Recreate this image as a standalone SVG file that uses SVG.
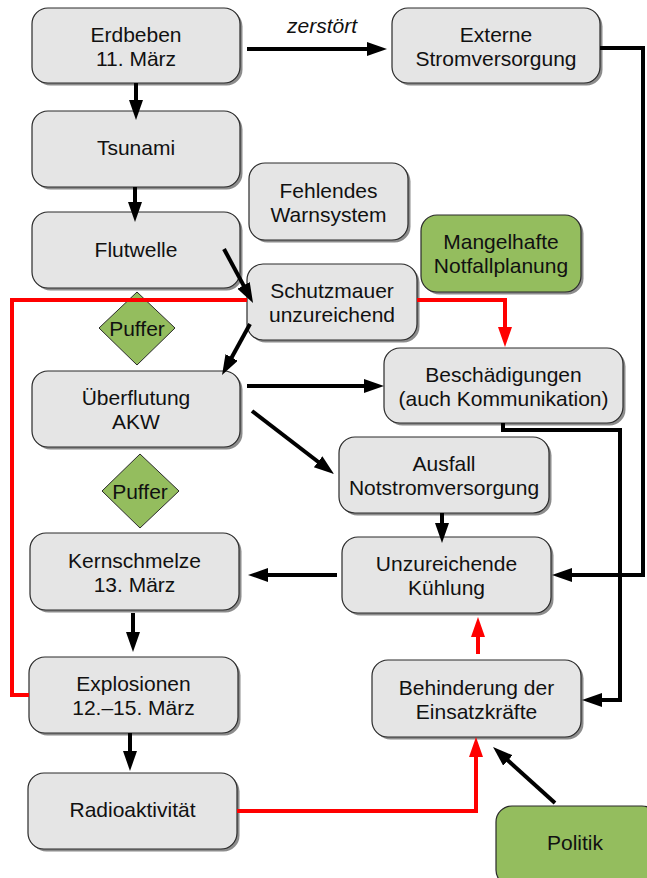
<svg xmlns="http://www.w3.org/2000/svg" width="647" height="878" viewBox="0 0 647 878">
<style>
.box{fill:#e5e5e5;stroke:#2a2a2a;stroke-width:1.2}
.green{fill:#94bd5e;stroke:#2a2a2a;stroke-width:1.2}
.sh{fill:#8c8c8c}
text{font-family:"Liberation Sans",Arial,sans-serif;font-size:21px;fill:#111;text-anchor:middle}
.it{font-style:italic}
.c{fill:none;stroke:#000;stroke-width:4}
.r{fill:none;stroke:#ff0000;stroke-width:4}
</style>
<defs>
<marker id="ab" markerUnits="userSpaceOnUse" markerWidth="22" markerHeight="16" refX="2" refY="7" orient="auto"><path d="M0,0 L20,7 L0,14 z" fill="#000"/></marker>
<marker id="ar" markerUnits="userSpaceOnUse" markerWidth="22" markerHeight="16" refX="2" refY="7" orient="auto"><path d="M0,0 L20,7 L0,14 z" fill="#ff0000"/></marker>
</defs>
<rect width="647" height="878" fill="#fff"/>

<g id="n-erdbeben"><rect class="sh" x="34.5" y="10.5" width="208" height="75" rx="16"/><rect class="box" x="32" y="8" width="208" height="75" rx="16"/><text x="136" y="42">Erdbeben</text><text x="136" y="66">11. März</text></g>
<g id="n-extern"><rect class="sh" x="394.5" y="10.5" width="208" height="75" rx="16"/><rect class="box" x="392" y="8" width="208" height="75" rx="16"/><text x="496" y="42">Externe</text><text x="496" y="66">Stromversorgung</text></g>
<g id="n-tsunami"><rect class="sh" x="34.5" y="113.5" width="208" height="76" rx="16"/><rect class="box" x="32" y="111" width="208" height="76" rx="16"/><text x="136" y="155">Tsunami</text></g>
<g id="n-warn"><rect class="sh" x="251.5" y="165.5" width="159" height="77" rx="16"/><rect class="box" x="249" y="163" width="159" height="77" rx="16"/><text x="328.5" y="198">Fehlendes</text><text x="328.5" y="222">Warnsystem</text></g>
<g id="n-flut"><rect class="sh" x="34.5" y="214.5" width="208" height="76" rx="16"/><rect class="box" x="32" y="212" width="208" height="76" rx="16"/><text x="136" y="257">Flutwelle</text></g>
<g id="n-notfall"><rect class="sh" x="423.5" y="217.5" width="160" height="77" rx="16"/><rect class="green" x="421" y="215" width="160" height="77" rx="16"/><text x="501" y="249">Mangelhafte</text><text x="501" y="273">Notfallplanung</text></g>
<g id="n-mauer"><rect class="sh" x="249.5" y="266.5" width="170" height="76" rx="16"/><rect class="box" x="247" y="264" width="170" height="76" rx="16"/><text x="332" y="298">Schutzmauer</text><text x="332" y="322">unzureichend</text></g>
<g id="n-puffer1"><polygon points="137,292 175,328 137,365 99,328" fill="#94bd5e" stroke="#2a2a2a" stroke-width="1"/><text x="137" y="336">Puffer</text></g>
<g id="n-ueberflutung"><rect class="sh" x="34.5" y="373.5" width="208" height="76" rx="16"/><rect class="box" x="32" y="371" width="208" height="76" rx="16"/><text x="136" y="405">Überflutung</text><text x="136" y="429">AKW</text></g>
<g id="n-besch"><rect class="sh" x="386.5" y="350.5" width="239" height="75" rx="16"/><rect class="box" x="384" y="348" width="239" height="75" rx="16"/><text x="503.5" y="382">Beschädigungen</text><text x="503.5" y="406">(auch Kommunikation)</text></g>
<g id="n-ausfall"><rect class="sh" x="341.5" y="439.5" width="210" height="76" rx="16"/><rect class="box" x="339" y="437" width="210" height="76" rx="16"/><text x="444" y="471">Ausfall</text><text x="444" y="495">Notstromversorgung</text></g>
<g id="n-puffer2"><polygon points="140,454 179,491 140,528 102,491" fill="#94bd5e" stroke="#2a2a2a" stroke-width="1"/><text x="140" y="499">Puffer</text></g>
<g id="n-kern"><rect class="sh" x="32.5" y="535.5" width="209" height="77" rx="16"/><rect class="box" x="30" y="533" width="209" height="77" rx="16"/><text x="134.5" y="568">Kernschmelze</text><text x="134.5" y="592">13. März</text></g>
<g id="n-kuehl"><rect class="sh" x="344.5" y="539.5" width="209" height="76" rx="16"/><rect class="box" x="342" y="537" width="209" height="76" rx="16"/><text x="446.5" y="571">Unzureichende</text><text x="446.5" y="595">Kühlung</text></g>
<g id="n-expl"><rect class="sh" x="31.5" y="659.5" width="209" height="76" rx="16"/><rect class="box" x="29" y="657" width="209" height="76" rx="16"/><text x="133.5" y="691">Explosionen</text><text x="133.5" y="715">12.–15. März</text></g>
<g id="n-behind"><rect class="sh" x="374.5" y="662.5" width="209" height="77" rx="16"/><rect class="box" x="372" y="660" width="209" height="77" rx="16"/><text x="476.5" y="695">Behinderung der</text><text x="476.5" y="719">Einsatzkräfte</text></g>
<g id="n-radio"><rect class="sh" x="30.5" y="775.5" width="209" height="76" rx="16"/><rect class="box" x="28" y="773" width="209" height="76" rx="16"/><text x="132.5" y="817">Radioaktivität</text></g>
<g id="n-politik"><rect class="sh" x="498.5" y="808.5" width="162" height="80" rx="16"/><rect class="green" x="496" y="806" width="162" height="80" rx="16"/><text x="575" y="850">Politik</text></g>

<g id="connectors">
<path class="c" d="M136,83 V102" marker-end="url(#ab)"/>
<path class="c" d="M135,187 V204" marker-end="url(#ab)"/>
<path class="c" d="M247,49 H369" marker-end="url(#ab)"/>
<text class="it" x="322" y="33">zerstört</text>
<path class="c" d="M600,48 H643 V575 H570" stroke-width="5" marker-end="url(#ab)"/>
<path class="c" d="M503,423 V430 H620 V700 H600" stroke-width="5" marker-end="url(#ab)"/>
<path class="c" d="M224,249 L244.5,287.1" marker-end="url(#ab)"/>
<path class="c" d="M250,324 L230.7,359.2" marker-end="url(#ab)"/>
<path class="c" d="M247,386 H366" marker-end="url(#ab)"/>
<path class="c" d="M252,411 L319.7,463" marker-end="url(#ab)"/>
<path class="c" d="M442,513 V525" stroke-width="3" marker-end="url(#ab)"/>
<path class="c" d="M337,575 H266" stroke-width="3" marker-end="url(#ab)"/>
<path class="c" d="M133,613 V634" marker-end="url(#ab)"/>
<path class="c" d="M130,733 V753" marker-end="url(#ab)"/>
<path class="c" d="M555,803 L506.4,759.1" marker-end="url(#ab)"/>
<path class="r" d="M478,654 V635" marker-end="url(#ar)"/>
<path class="r" d="M237,811 H476 V755" marker-end="url(#ar)"/>
<path class="r" d="M29,695 H12 V300 H247"/>
<path class="r" d="M417,300 H505 V329" marker-end="url(#ar)"/>
</g>
</svg>
